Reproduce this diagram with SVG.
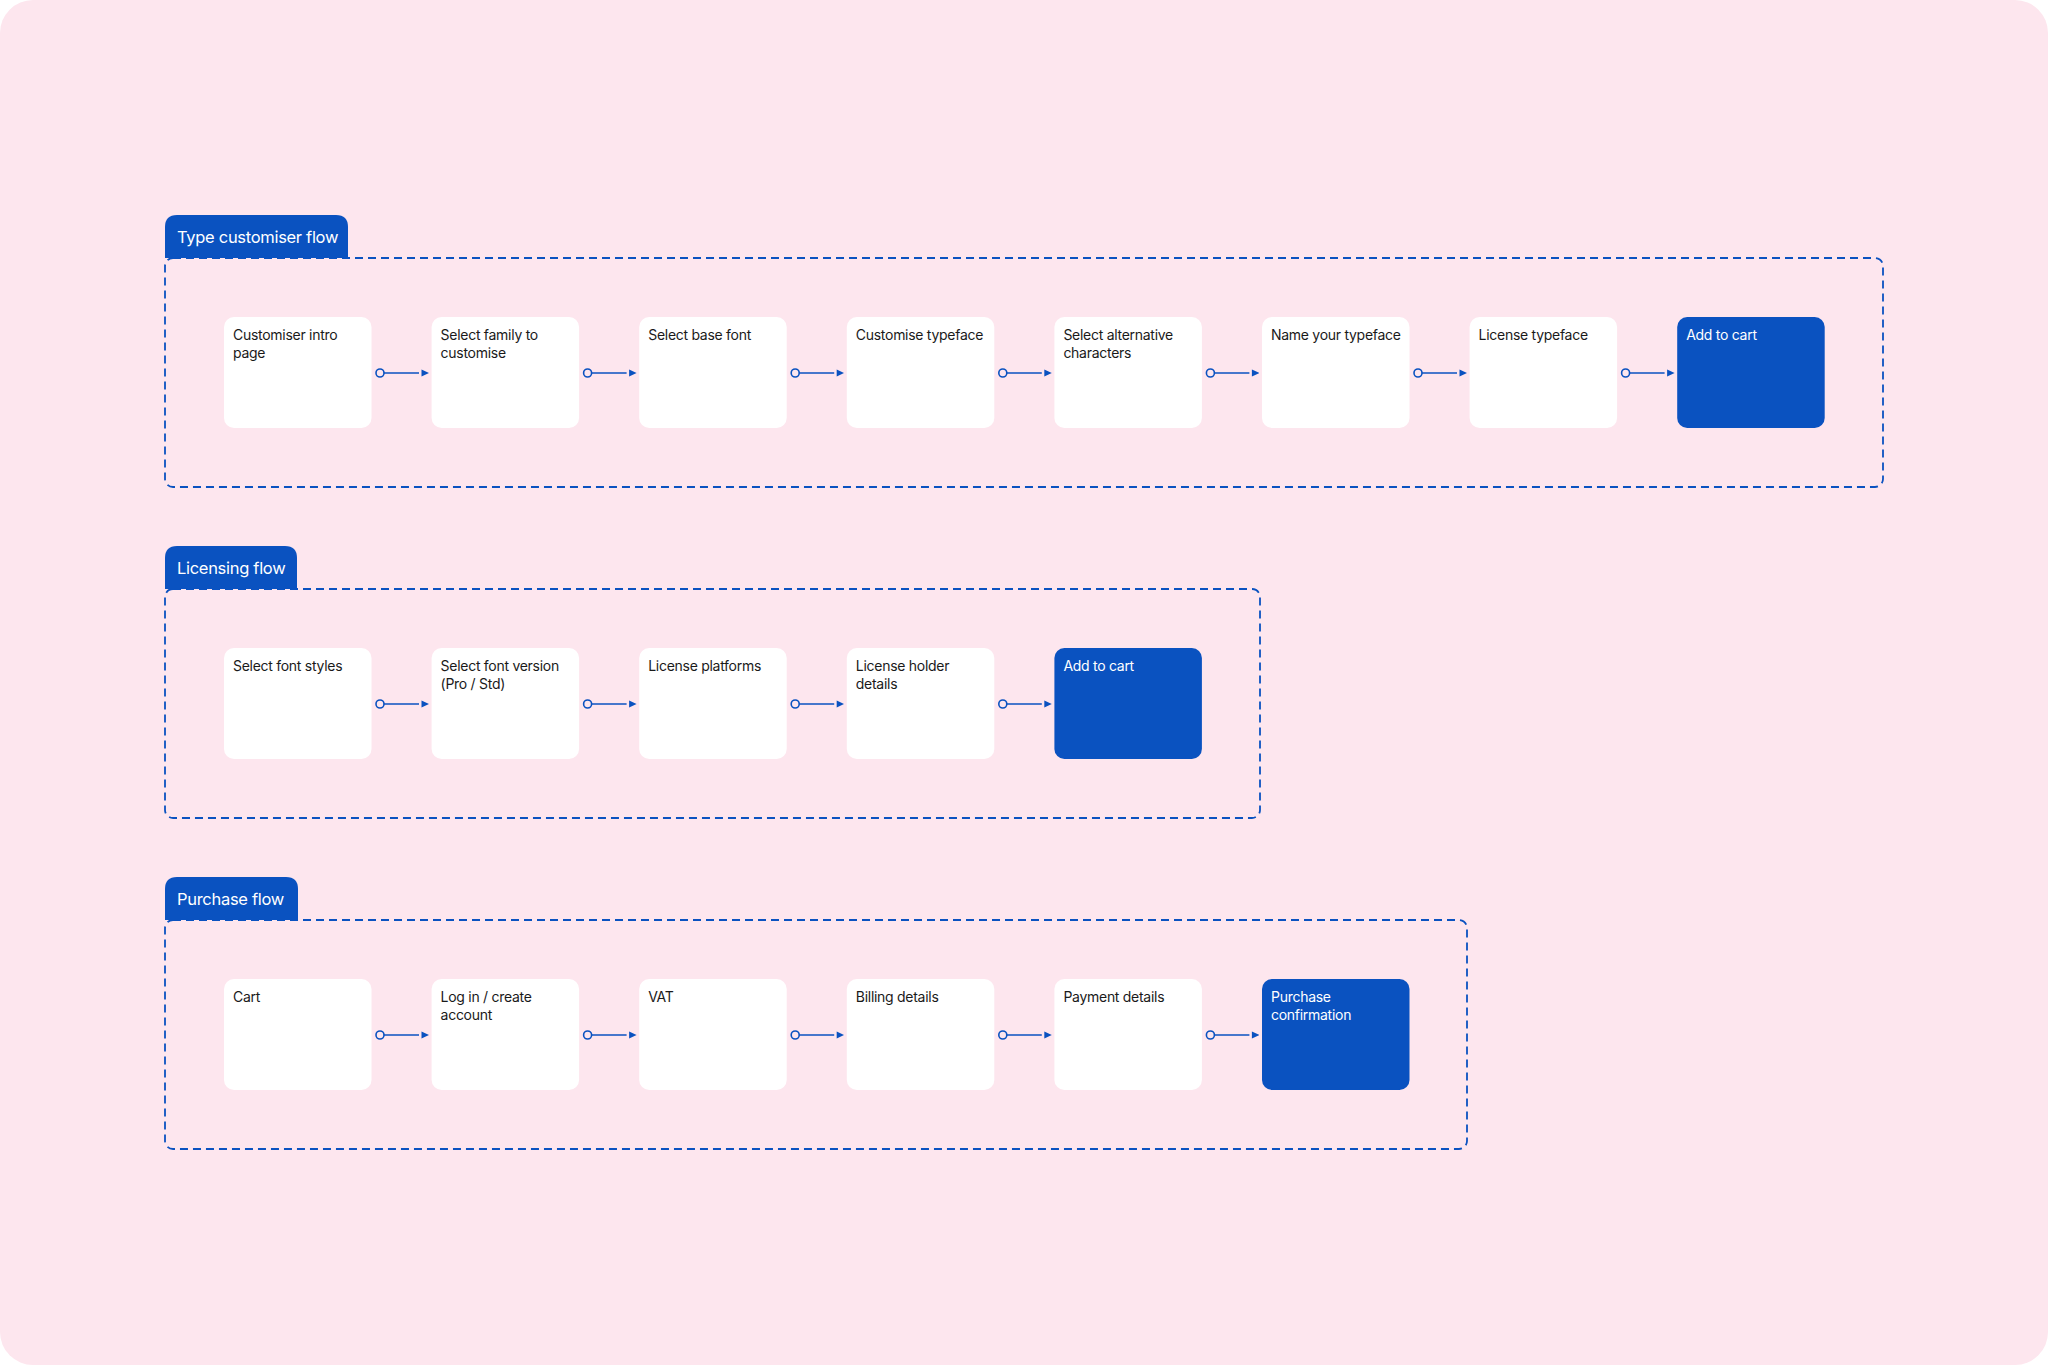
<svg xmlns="http://www.w3.org/2000/svg" width="2048" height="1365" viewBox="0 0 2048 1365">
<defs>
<style>
.bg{fill:#FDE6EE}
.frame{fill:none;stroke:#0A52C0;stroke-width:1.8;stroke-dasharray:8 5}
.tab{fill:#0A52C0}
.tabt{fill:#FFFFFF;font-family:Inter,"Liberation Sans",sans-serif;font-size:16.5px;letter-spacing:-0.3px}
.node{fill:#FFFFFF}
.nodeb{fill:#0A52C0}
.t{fill:#1A1A1A;font-family:Inter,"Liberation Sans",sans-serif;font-size:14px;letter-spacing:-0.28px}
.tw{fill:#FFFFFF;font-family:Inter,"Liberation Sans",sans-serif;font-size:14px;letter-spacing:-0.28px}
.conn{stroke:#0A52C0;stroke-width:1.6;fill:none;marker-start:url(#dot);marker-end:url(#tri)}
</style>
<marker id="tri" markerUnits="userSpaceOnUse" viewBox="0 0 10 8" refX="0" refY="4" markerWidth="10" markerHeight="8" orient="auto">
<path d="M2.5,0.5 L10,4 L2.5,7.5 Z" fill="#0A52C0"/>
</marker>
<marker id="dot" markerUnits="userSpaceOnUse" viewBox="0 0 12 12" refX="10" refY="6" markerWidth="12" markerHeight="12" orient="auto">
<circle cx="6" cy="6" r="4" fill="none" stroke="#0A52C0" stroke-width="1.6"/>
</marker>
</defs>
<rect class="bg" x="0" y="0" width="2048" height="1365" rx="33"/>

<!-- Section 1 -->
<g id="section-type-customiser">
<rect class="frame" x="165" y="258" width="1718" height="229" rx="8"/>
<path class="tab" d="M165,258 V227 Q165,215 177,215 H336 Q348,215 348,227 V258 Z"/>
<text class="tabt" x="177" y="243">Type customiser flow</text>
</g>
<!-- Section 2 -->
<g id="section-licensing">
<rect class="frame" x="165" y="589" width="1095" height="229" rx="8"/>
<path class="tab" d="M165,589 V558 Q165,546 177,546 H285 Q297,546 297,558 V589 Z"/>
<text class="tabt" x="177" y="574">Licensing flow</text>
</g>
<!-- Section 3 -->
<g id="section-purchase">
<rect class="frame" x="165" y="920" width="1302" height="229" rx="8"/>
<path class="tab" d="M165,920 V889 Q165,877 177,877 H286 Q298,877 298,889 V920 Z"/>
<text class="tabt" x="177" y="905">Purchase flow</text>
</g>

<!-- Nodes S1 -->
<g id="n1-1"><rect class="node" x="224" y="317" width="147.5" height="111" rx="10"/><text class="t" x="233" y="340">Customiser intro</text><text class="t" x="233" y="357.5">page</text></g>
<g id="n1-2"><rect class="node" x="431.6" y="317" width="147.5" height="111" rx="10"/><text class="t" x="440.6" y="340">Select family to</text><text class="t" x="440.6" y="357.5">customise</text></g>
<g id="n1-3"><rect class="node" x="639.2" y="317" width="147.5" height="111" rx="10"/><text class="t" x="648.2" y="340">Select base font</text></g>
<g id="n1-4"><rect class="node" x="846.8" y="317" width="147.5" height="111" rx="10"/><text class="t" x="855.8" y="340">Customise typeface</text></g>
<g id="n1-5"><rect class="node" x="1054.4" y="317" width="147.5" height="111" rx="10"/><text class="t" x="1063.4" y="340">Select alternative</text><text class="t" x="1063.4" y="357.5">characters</text></g>
<g id="n1-6"><rect class="node" x="1262" y="317" width="147.5" height="111" rx="10"/><text class="t" x="1271" y="340">Name your typeface</text></g>
<g id="n1-7"><rect class="node" x="1469.6" y="317" width="147.5" height="111" rx="10"/><text class="t" x="1478.6" y="340">License typeface</text></g>
<g id="n1-8"><rect class="nodeb" x="1677.2" y="317" width="147.5" height="111" rx="10"/><text class="tw" x="1686.2" y="340">Add to cart</text></g>

<!-- Nodes S2 -->
<g id="n2-1"><rect class="node" x="224" y="648" width="147.5" height="111" rx="10"/><text class="t" x="233" y="671">Select font styles</text></g>
<g id="n2-2"><rect class="node" x="431.6" y="648" width="147.5" height="111" rx="10"/><text class="t" x="440.6" y="671">Select font version</text><text class="t" x="440.6" y="688.5">(Pro / Std)</text></g>
<g id="n2-3"><rect class="node" x="639.2" y="648" width="147.5" height="111" rx="10"/><text class="t" x="648.2" y="671">License platforms</text></g>
<g id="n2-4"><rect class="node" x="846.8" y="648" width="147.5" height="111" rx="10"/><text class="t" x="855.8" y="671">License holder</text><text class="t" x="855.8" y="688.5">details</text></g>
<g id="n2-5"><rect class="nodeb" x="1054.4" y="648" width="147.5" height="111" rx="10"/><text class="tw" x="1063.4" y="671">Add to cart</text></g>

<!-- Nodes S3 -->
<g id="n3-1"><rect class="node" x="224" y="979" width="147.5" height="111" rx="10"/><text class="t" x="233" y="1002">Cart</text></g>
<g id="n3-2"><rect class="node" x="431.6" y="979" width="147.5" height="111" rx="10"/><text class="t" x="440.6" y="1002">Log in / create</text><text class="t" x="440.6" y="1019.5">account</text></g>
<g id="n3-3"><rect class="node" x="639.2" y="979" width="147.5" height="111" rx="10"/><text class="t" x="648.2" y="1002">VAT</text></g>
<g id="n3-4"><rect class="node" x="846.8" y="979" width="147.5" height="111" rx="10"/><text class="t" x="855.8" y="1002">Billing details</text></g>
<g id="n3-5"><rect class="node" x="1054.4" y="979" width="147.5" height="111" rx="10"/><text class="t" x="1063.4" y="1002">Payment details</text></g>
<g id="n3-6"><rect class="nodeb" x="1262" y="979" width="147.5" height="111" rx="10"/><text class="tw" x="1271" y="1002">Purchase</text><text class="tw" x="1271" y="1019.5">confirmation</text></g>

<g id="connectors">
<line class="conn" x1="384" y1="373" x2="419" y2="373"/>
<line class="conn" x1="591.6" y1="373" x2="626.6" y2="373"/>
<line class="conn" x1="799.2" y1="373" x2="834.2" y2="373"/>
<line class="conn" x1="1006.8" y1="373" x2="1041.8" y2="373"/>
<line class="conn" x1="1214.4" y1="373" x2="1249.4" y2="373"/>
<line class="conn" x1="1422" y1="373" x2="1457" y2="373"/>
<line class="conn" x1="1629.6" y1="373" x2="1664.6" y2="373"/>

<line class="conn" x1="384" y1="704" x2="419" y2="704"/>
<line class="conn" x1="591.6" y1="704" x2="626.6" y2="704"/>
<line class="conn" x1="799.2" y1="704" x2="834.2" y2="704"/>
<line class="conn" x1="1006.8" y1="704" x2="1041.8" y2="704"/>

<line class="conn" x1="384" y1="1035" x2="419" y2="1035"/>
<line class="conn" x1="591.6" y1="1035" x2="626.6" y2="1035"/>
<line class="conn" x1="799.2" y1="1035" x2="834.2" y2="1035"/>
<line class="conn" x1="1006.8" y1="1035" x2="1041.8" y2="1035"/>
<line class="conn" x1="1214.4" y1="1035" x2="1249.4" y2="1035"/>
</g>
</svg>
